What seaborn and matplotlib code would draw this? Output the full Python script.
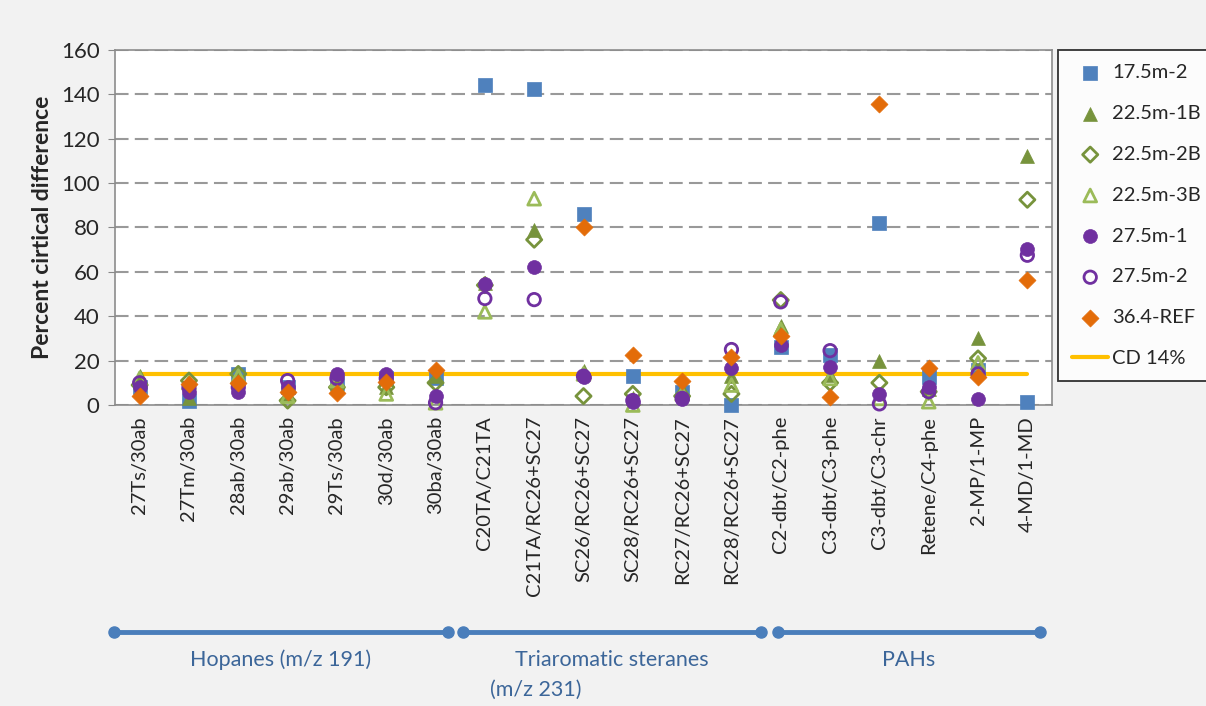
import numpy as np
import pandas as pd
import seaborn as sns
import matplotlib.pyplot as plt
from matplotlib.transforms import blended_transform_factory

#%% data
categories = ['27Ts/30ab', '27Tm/30ab', '28ab/30ab', '29ab/30ab', '29Ts/30ab', '30d/30ab', '30ba/30ab',
              'C20TA/C21TA', 'C21TA/RC26+SC27', 'SC26/RC26+SC27', 'SC28/RC26+SC27', 'RC27/RC26+SC27',
              'RC28/RC26+SC27', 'C2-dbt/C2-phe', 'C3-dbt/C3-phe', 'C3-dbt/C3-chr', 'Retene/C4-phe',
              '2-MP/1-MP', '4-MD/1-MD']
nan = np.nan
s17_5m_2 = [8, 2, 14, 8, 10, 12, 12, 144, 142.5, 86, 13, 6, 0, 26, 22.5, 82, 12.7, 16, 1.5]
s22_5m_1B = [13, 3, 12, 5, 9, 8, 13, 55, 79, 15.5, 3, 7, 13, 35.5, 13.5, 20, 7, 30, 112]
s22_5m_2B = [9, 11, 14, 2, 8, 8, 10, 54, 74.5, 4, 5, 4, 5, 47.3, 10, 10, 6, 21, 92.5]
s22_5m_3B = [12, 10, 13, 4, 11, 5, 1, 42, 93, 14, 0, 5, 9, 34, 12, 3, 1.5, 19, nan]
s27_5m_1 = [8, 6, 6, 8, 14, 14, 4, 54.5, 62, 12.5, 1.5, 2.5, 16.5, 27, 17, 5, 8, 2.7, 70.3]
s27_5m_2 = [10, 8, 8, 11, 12, 12, 1, 48, 47.5, 13, 2, 3, 25, 46.5, 24.5, 0.5, 6, 14, 67.5]
s36_4_REF = [4, 9.5, 10, 6, 5.5, 10.5, 16, nan, nan, 80, 22.5, 11, 21.5, 31, 3.7, 135.5, 16.5, 12.7, 56.3]
cd_limit = [14] * len(categories)

groups = ['Hopanes (m/z 191)', 'Triaromatic steranes\n(m/z 231)', 'PAHs']

#%% style
sns.set_style('white')
plt.rcParams['font.family'] = ['Lato', 'DejaVu Sans']

blue = '#4f81bd'
olive = '#77933c'
lgreen = '#9bbb59'
purple = '#7030a0'
orange = '#e36c09'
gold = '#ffc000'

# name, values, marker, color, filled, size
series = [
    ('17.5m-2', s17_5m_2, 's', blue, True, 95),
    ('22.5m-1B', s22_5m_1B, '^', olive, True, 100),
    ('22.5m-2B', s22_5m_2B, 'D', olive, False, 60),
    ('22.5m-3B', s22_5m_3B, '^', lgreen, False, 85),
    ('27.5m-1', s27_5m_1, 'o', purple, True, 100),
    ('27.5m-2', s27_5m_2, 'o', purple, False, 80),
    ('36.4-REF', s36_4_REF, 'D', orange, True, 75),
]

fig = plt.figure(figsize=(12.06, 7.06), dpi=100, facecolor='#f2f2f2')
ax = fig.add_axes([115 / 1206, 1 - 405 / 706, (1052 - 115) / 1206, (405 - 50) / 706])
ax.set_facecolor('white')

for name, vals, mk, col, filled, size in series:
    df = pd.DataFrame({'cat': categories, 'val': vals})
    if filled:
        sns.scatterplot(data=df, x='cat', y='val', marker=mk, color=col, s=size,
                        edgecolor=col, linewidth=0.5, label=name, ax=ax, zorder=3, clip_on=False)
    else:
        sns.scatterplot(data=df, x='cat', y='val', marker=mk, color=col, s=size,
                        facecolor='none', edgecolor=col, linewidth=2, label=name, ax=ax,
                        zorder=3, clip_on=False)

df_cd = pd.DataFrame({'cat': categories, 'val': cd_limit})
sns.lineplot(data=df_cd, x='cat', y='val', color=gold, linewidth=3, label='CD 14%', ax=ax, zorder=2)

ax.set_xlim(-0.5, len(categories) - 0.5)
ax.set_ylim(0, 160)
ax.set_yticks(range(0, 161, 20))
ax.yaxis.grid(True, color='#999999', linestyle=(0, (6.5, 3)), linewidth=1.5)
ax.set_axisbelow(True)
ax.tick_params(axis='y', labelsize=16, length=5, color='#888888', left=True, pad=6)
ax.tick_params(axis='x', labelsize=14.5, length=0, pad=8)
plt.setp(ax.get_xticklabels(), rotation=90)
for sp in ax.spines.values():
    sp.set_color('#8c8c8c')
    sp.set_linewidth(1.2)
ax.set_xlabel('')
ax.set_ylabel('Percent cirtical difference', fontsize=16.5, fontweight='bold', labelpad=6)

#%% legend
leg = ax.legend(loc='upper left', bbox_to_anchor=(1058 / 1206, 1 - 50 / 706),
                bbox_transform=fig.transFigure, fontsize=14.5, frameon=True, fancybox=False,
                edgecolor='black', labelspacing=1.18, handlelength=1.8, handletextpad=0.2,
                borderpad=0.7, borderaxespad=0)
leg.get_frame().set_linewidth(1.3)

#%% group brackets under the axis
trans = blended_transform_factory(ax.transData, fig.transFigure)
line_y = 1 - 632 / 706
spans = [(-0.53, 6.25), (6.55, 12.6), (12.94, 18.25)]
for (x0, x1), label in zip(spans, groups):
    ax.plot([x0, x1], [line_y, line_y], color='#4a7ebb', linewidth=3.5, marker='o',
            markersize=8, transform=trans, clip_on=False)
for (x0, x1), label in zip(spans, groups):
    if '\n' in label:
        first, second = label.split('\n')
        ax.text((x0 + x1) / 2, 1 - 660 / 706, first, transform=trans, ha='center', va='center',
                fontsize=15.5, color='#3c6699')
        ax.text(6.55 + 0.55, 1 - 690 / 706, second, transform=trans, ha='left', va='center',
                fontsize=15.5, color='#3c6699')
    else:
        ax.text((x0 + x1) / 2, 1 - 660 / 706, label, transform=trans, ha='center', va='center',
                fontsize=15.5, color='#3c6699')

plt.savefig('out.png', dpi=100, facecolor=fig.get_facecolor())
